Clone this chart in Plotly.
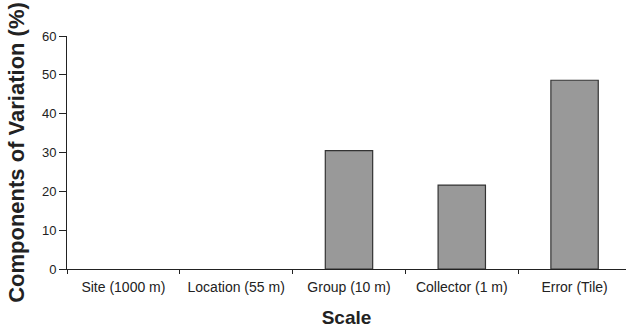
import plotly.graph_objects as go

categories = ["Site (1000 m)", "Location (55 m)", "Group (10 m)", "Collector (1 m)", "Error (Tile)"]
values = [0, 0, 30.5, 21.6, 48.6]
y_ticks = [0, 10, 20, 30, 40, 50, 60]

outline_widths = [0 if v == 0 else 1.2 for v in values]

fig = go.Figure(go.Bar(
    x=categories, y=values, width=0.42,
    marker=dict(color="#999999", line=dict(color="#333333", width=outline_widths)),
))

font = "Liberation Sans, Arial, sans-serif"
fig.update_layout(
    width=626, height=328,
    margin=dict(l=67, r=0, t=36, b=59),
    plot_bgcolor="white", paper_bgcolor="white",
    showlegend=False,
    font=dict(family=font, color="#222222", size=14),
    xaxis=dict(
        range=[-0.5, 4.456], showline=True, linecolor="#222222", linewidth=1,
        ticks="outside", tickson="boundaries", ticklen=4, tickcolor="#222222",
        showgrid=False, automargin=False, tickfont=dict(size=14, color="#222222"),
        ticklabelstandoff=5,
        title=dict(text="<b>Scale</b>", font=dict(size=19, color="#222222"), standoff=16),
    ),
    yaxis=dict(
        range=[0, 60], tickvals=y_ticks, showline=True, linecolor="#222222", linewidth=1,
        ticks="outside", ticklen=7, tickcolor="#222222", showgrid=False, zeroline=False,
        automargin=False, tickfont=dict(size=13, color="#222222"),
        title=dict(text="<b>Components of Variation (%)</b>", font=dict(size=22, color="#222222"), standoff=11),
    ),
)

fig.write_html("out.html", config={"displayModeBar": False},
               post_script="document.body.style.margin='0';")
